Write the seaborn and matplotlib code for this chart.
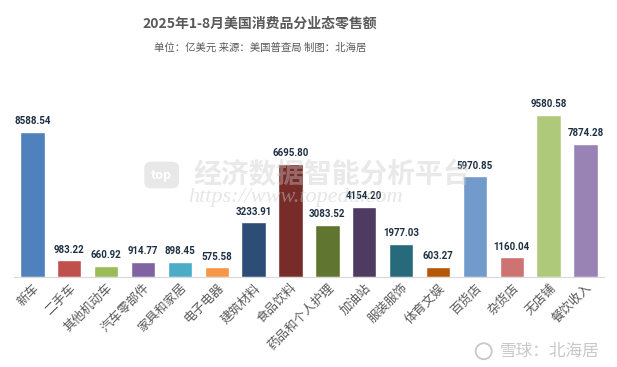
import numpy as np
import pandas as pd
import matplotlib
matplotlib.use("Agg")
import matplotlib.pyplot as plt
from matplotlib.patches import Ellipse
import seaborn as sns

# data (亿美元)
categories = ["新车", "二手车", "其他机动车", "汽车零部件", "家具和家居", "电子电器",
              "建筑材料", "食品饮料", "药品和个人护理", "加油站", "服装服饰", "体育文娱",
              "百货店", "杂货店", "无店铺", "餐饮收入"]
values = [8588.54, 983.22, 660.92, 914.77, 898.45, 575.58,
          3233.91, 6695.80, 3083.52, 4154.20, 1977.03, 603.27,
          5970.85, 1160.04, 9580.58, 7874.28]
colors = ["#4f81bd", "#c0504d", "#9bbb59", "#8064a2", "#4bacc6", "#f79646",
          "#2c4d75", "#772c2a", "#5f7530", "#4d3b62", "#276a7c", "#b65708",
          "#729aca", "#cd7371", "#afc97a", "#9983b5"]

df = pd.DataFrame({"cat": categories, "val": values})

sns.set_style("white")
plt.rcParams["font.family"] = ["Noto Sans CJK SC", "DejaVu Sans"]

fig = plt.figure(figsize=(6.17, 3.67), dpi=100)
ax = fig.add_axes([0.0227, 0.245, 0.956, 0.496])

sns.barplot(data=df, x="cat", y="val", hue="cat", palette=colors,
            legend=False, width=0.66, saturation=1, ax=ax)

ax.set_xlim(-0.5, len(categories) - 0.5)
ax.set_ylim(0, 10763)
ax.set_xlabel("")
ax.set_ylabel("")
ax.set_yticks([])
for side in ["top", "left", "right"]:
    ax.spines[side].set_visible(False)
ax.spines["bottom"].set_color("#d9d9d9")
ax.spines["bottom"].set_linewidth(0.8)
ax.tick_params(axis="x", length=0, pad=3)

ax.set_xticks(range(len(categories)))
ax.set_xticklabels(categories, rotation=45, ha="right", va="top",
                   rotation_mode="anchor", fontsize=9, color="#595959")

for i, v in enumerate(values):
    ax.text(i, v + 330, f"{v:.2f}", ha="center", va="bottom", fontsize=7,
            fontweight="bold", color="#1f3044",
            family=["Roboto", "DejaVu Sans"])

fig.text(0.421, 0.937, "2025年1-8月美国消费品分业态零售额", ha="center", va="center",
         fontsize=10, fontweight="bold", color="#595959")
fig.text(0.421, 0.869, "单位：亿美元 来源：美国普查局 制图：北海居", ha="center", va="center",
         fontsize=7.5, color="#595959")

# faint watermarks
fig.text(0.262, 0.523, "top", ha="center", va="center", fontsize=9,
         fontweight="bold", color="white",
         bbox=dict(boxstyle="round,pad=0.55", fc="#e3e3e3", ec="none", alpha=0.8))
fig.text(0.313, 0.523, "经济数据智能分析平台", ha="left", va="center", fontsize=20,
         fontweight="bold", style="italic", color="#c8c8c8", alpha=0.4)
fig.text(0.305, 0.462, "https://www.topedu.com", ha="left", va="center", fontsize=16,
         style="italic", family=["Liberation Serif", "DejaVu Serif"],
         color="#c8c8c8", alpha=0.45)
fig.patches.append(Ellipse((0.784, 0.043), 16 / 617, 16 / 367, transform=fig.transFigure,
                           fill=False, ec="#c8c8c8", lw=1.3))
fig.text(0.972, 0.041, "雪球：北海居", ha="right", va="center", fontsize=12,
         color="#c8c8c8")

fig.savefig("out.png", dpi=100)
